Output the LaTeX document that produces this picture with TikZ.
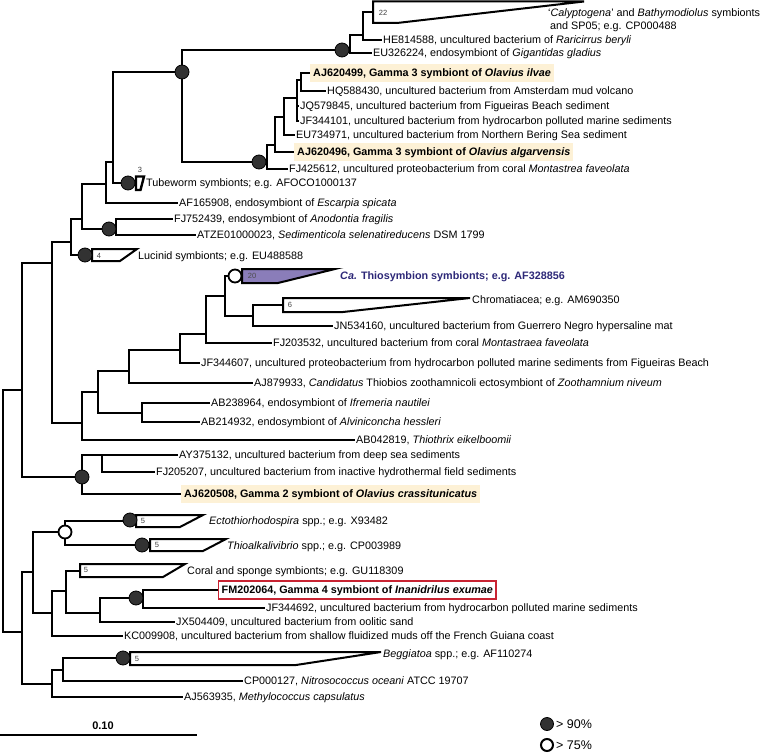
\documentclass[tikz,border=0pt]{standalone}
\usepackage{fontspec}
\setmainfont{Liberation Sans}
\definecolor{hlc}{RGB}{253,241,214}
\definecolor{navy}{RGB}{45,40,120}
\definecolor{thiofill}{RGB}{138,125,185}
\definecolor{redbox}{RGB}{200,35,50}
\definecolor{supfill}{RGB}{50,50,50}
\begin{document}
\begin{tikzpicture}[x=1pt,y=-1pt,
  br/.style={line width=2.3pt},
  lab/.style={anchor=west,inner xsep=1pt,inner ysep=0pt,text height=8.6pt,text depth=0.8pt,font=\fontsize{10.8}{12}\selectfont},
  hl/.style={lab,fill=hlc,inner xsep=3pt,inner ysep=4.3pt,font=\fontsize{10.8}{12}\selectfont\bfseries},
  redlab/.style={lab,fill=white,draw=redbox,line width=1.4pt,inner xsep=3pt,inner ysep=4.3pt,font=\fontsize{10.8}{12}\selectfont\bfseries},
  sup/.style={circle,fill=supfill,draw=black,line width=0.8pt,minimum size=14pt,inner sep=0pt},
  supo/.style={circle,fill=white,draw=black,line width=1.8pt,minimum size=13pt,inner sep=0pt},
  clade/.style={draw=black,line width=2pt,fill=white,line join=miter},
  num/.style={font=\fontsize{7.5}{8}\selectfont,text=black!75,inner sep=0pt},
  legtext/.style={anchor=west,inner sep=0pt,font=\fontsize{12.5}{14}\selectfont}]
\useasboundingbox (0,0) rectangle (760,754);

% ---------- leaf labels ----------
\node[lab] (HE) at (382,40) {HE814588, uncultured bacterium of \textit{Raricirrus beryli}};
\node[lab] (EUa) at (372,53) {EU326224, endosymbiont of \textit{Gigantidas gladius}};
\node[hl] (AJa) at (310,73) {AJ620499, Gamma 3 symbiont of \textit{Olavius ilvae}};
\node[lab] (HQ) at (326,91) {HQ588430, uncultured bacterium from Amsterdam mud volcano};
\node[lab] (JQ) at (299,106) {JQ579845, uncultured bacterium from Figueiras Beach sediment};
\node[lab] (JFa) at (299,121) {JF344101, uncultured bacterium from hydrocarbon polluted marine sediments};
\node[lab] (EUb) at (295,135) {EU734971, uncultured bacterium from Northern Bering Sea sediment};
\node[hl] (AJb) at (294,152) {AJ620496, Gamma 3 symbiont of \textit{Olavius algarvensis}};
\node[lab] (FJa) at (288,169) {FJ425612, uncultured proteobacterium from coral \textit{Montastrea faveolata}};
\node[lab] (AF) at (178,203) {AF165908, endosymbiont of \textit{Escarpia spicata}};
\node[lab] (FJb) at (173,219) {FJ752439, endosymbiont of \textit{Anodontia fragilis}};
\node[lab] (ATZE) at (196,235) {ATZE01000023, \textit{Sedimenticola selenatireducens} DSM 1799};
\node[lab] (JN) at (333,326) {JN534160, uncultured bacterium from Guerrero Negro hypersaline mat};
\node[lab] (FJc) at (272,343) {FJ203532, uncultured bacterium from coral \textit{Montastraea faveolata}};
\node[lab] (JFb) at (200,363) {JF344607, uncultured proteobacterium from hydrocarbon polluted marine sediments from Figueiras Beach};
\node[lab] (AJc) at (253,383) {AJ879933, \textit{Candidatus} Thiobios zoothamnicoli ectosymbiont of \textit{Zoothamnium niveum}};
\node[lab] (ABa) at (210,403) {AB238964, endosymbiont of \textit{Ifremeria nautilei}};
\node[lab] (ABb) at (200,422) {AB214932, endosymbiont of \textit{Alviniconcha hessleri}};
\node[lab] (ABc) at (355,440) {AB042819, \textit{Thiothrix eikelboomii}};
\node[lab] (AY) at (178,455) {AY375132, uncultured bacterium from deep sea sediments};
\node[lab] (FJd) at (155,472) {FJ205207, uncultured bacterium from inactive hydrothermal field sediments};
\node[hl] (AJd) at (181,494) {AJ620508, Gamma 2 symbiont of \textit{Olavius crassitunicatus}};
\node[redlab] (FM) at (218,590) {FM202064, Gamma 4 symbiont of \textit{Inanidrilus exumae}};
\node[lab] (JFc) at (265,608) {JF344692, uncultured bacterium from hydrocarbon polluted marine sediments};
\node[lab] (JX) at (175,622) {JX504409, uncultured bacterium from oolitic sand};
\node[lab] (KC) at (123,636) {KC009908, uncultured bacterium from shallow fluidized muds off the French Guiana coast};
\node[lab] (CP) at (243,681) {CP000127, \textit{Nitrosococcus oceani} ATCC 19707};
\node[lab] (AJe) at (183,697) {AJ563935, \textit{Methylococcus capsulatus}};

% ---------- collapsed clade labels ----------
\node[lab] (t22a) at (547,13) {`\textit{Calyptogena}' and \textit{Bathymodiolus} symbionts};
\node[lab] (t22b) at (549,26) {and SP05; e.g. CP000488};
\node[lab] (ttube) at (145,183) {Tubeworm symbionts; e.g. AFOCO1000137};
\node[lab] (tluc) at (137,256) {Lucinid symbionts; e.g. EU488588};
\node[lab,text=navy,font=\fontsize{10.8}{12}\selectfont\bfseries] (tthio) at (339,276) {\textit{Ca.} Thiosymbion symbionts; e.g. AF328856};
\node[lab] (tchrom) at (471,300) {Chromatiacea; e.g. AM690350};
\node[lab] (tecto) at (208,521) {\textit{Ectothiorhodospira} spp.; e.g. X93482};
\node[lab] (talk) at (226,546) {\textit{Thioalkalivibrio} spp.; e.g. CP003989};
\node[lab] (tcoral) at (186,571) {Coral and sponge symbionts; e.g. GU118309};
\node[lab] (tbeg) at (382,654) {\textit{Beggiatoa} spp.; e.g. AF110274};

% ---------- internal nodes ----------
\coordinate (R) at (3,511);
\coordinate (U) at (22,390);
\coordinate (L) at (22,632);
\coordinate (N52a) at (52,263);
\coordinate (G2) at (82,477);
\coordinate (N71) at (71,242);
\coordinate (N82b) at (82,423);
\coordinate (N82a) at (82,219);
\coordinate (N106) at (106,184);
\coordinate (N116) at (116,229);
\coordinate (N113) at (113,162);
\coordinate (N182) at (182,72);
\coordinate (N350) at (350,50);
\coordinate (N363) at (363,35);
\coordinate (N267) at (267,162);
\coordinate (N275) at (275,145);
\coordinate (N284) at (284,117);
\coordinate (N297) at (297,98);
\coordinate (N301) at (301,80);
\coordinate (N98) at (98,392);
\coordinate (N129) at (129,371);
\coordinate (N180) at (180,350);
\coordinate (N206) at (206,334);
\coordinate (N225) at (225,296);
\coordinate (N253) at (253,316);
\coordinate (N142) at (142,413);
\coordinate (N102) at (102,455);
\coordinate (N33) at (33,572);
\coordinate (N65) at (65,532);
\coordinate (N52b) at (52,613);
\coordinate (N66) at (66,591);
\coordinate (N100) at (100,613);
\coordinate (N143) at (143,598);
\coordinate (N52c) at (52,684);
\coordinate (N63) at (63,670);

% collapsed clade attachment points
\coordinate (c22) at (373,12);
\coordinate (ctube) at (136,183);
\coordinate (cluc) at (92,255);
\coordinate (cthio) at (242,276);
\coordinate (cchrom) at (283,305);
\coordinate (cecto) at (136,521);
\coordinate (calk) at (150,545);
\coordinate (ccoral) at (80,571);
\coordinate (cbeg) at (130,658);

% ---------- branches ----------
\draw[br] (R) |- (U);       \draw[br] (R) |- (L);
\draw[br] (U) |- (N52a);    \draw[br] (U) |- (G2);
\draw[br] (N52a) |- (N71);  \draw[br] (N52a) |- (N82b);
\draw[br] (N71) |- (N82a);  \draw[br] (N71) |- (cluc);
\draw[br] (N82a) |- (N106); \draw[br] (N82a) |- (N116);
\draw[br] (N106) |- (N113); \draw[br] (N106) |- (AF.west);
\draw[br] (N113) |- (N182); \draw[br] (N113) |- (ctube);
\draw[br] (N182) |- (N350); \draw[br] (N182) |- (N267);
\draw[br] (N350) |- (N363); \draw[br] (N350) |- (EUa.west);
\draw[br] (N363) |- (c22);  \draw[br] (N363) |- (HE.west);
\draw[br] (N267) |- (N275); \draw[br] (N267) |- (FJa.west);
\draw[br] (N275) |- (N284); \draw[br] (N275) |- (AJb.west);
\draw[br] (N284) |- (N297); \draw[br] (N284) |- (EUb.west);
\draw[br] (N297) |- (N301); \draw[br] (N297) |- (JQ.west); \draw[br] (N297) |- (JFa.west);
\draw[br] (N301) |- (AJa.west); \draw[br] (N301) |- (HQ.west);
\draw[br] (N116) |- (FJb.west); \draw[br] (N116) |- (ATZE.west);
\draw[br] (N82b) |- (N98);  \draw[br] (N82b) |- (ABc.west);
\draw[br] (N98) |- (N129);  \draw[br] (N98) |- (N142);
\draw[br] (N129) |- (N180); \draw[br] (N129) |- (AJc.west);
\draw[br] (N180) |- (N206); \draw[br] (N180) |- (JFb.west);
\draw[br] (N206) |- (N225); \draw[br] (N206) |- (FJc.west);
\draw[br] (N225) |- (cthio); \draw[br] (N225) |- (N253);
\draw[br] (N253) |- (cchrom); \draw[br] (N253) |- (JN.west);
\draw[br] (N142) |- (ABa.west); \draw[br] (N142) |- (ABb.west);
\draw[br] (G2) |- (N102);   \draw[br] (G2) |- (AJd.west);
\draw[br] (N102) |- (AY.west); \draw[br] (N102) |- (FJd.west);
\draw[br] (L) |- (N33);     \draw[br] (L) |- (N52c);
\draw[br] (N33) |- (N65);   \draw[br] (N33) |- (N52b);
\draw[br] (N65) |- (cecto); \draw[br] (N65) |- (calk);
\draw[br] (N52b) |- (N66);  \draw[br] (N52b) |- (KC.west);
\draw[br] (N66) |- (ccoral); \draw[br] (N66) |- (N100);
\draw[br] (N100) |- (N143); \draw[br] (N100) |- (JX.west);
\draw[br] (N143) |- (FM.west); \draw[br] (N143) |- (JFc.west);
\draw[br] (N52c) |- (N63);  \draw[br] (N52c) |- (AJe.west);
\draw[br] (N63) |- (cbeg);  \draw[br] (N63) |- (CP.west);

% ---------- collapsed clades ----------
\draw[clade] (373,1.5) -- (584,1.5) -- (397,23) -- (373,23) -- cycle;
\node[num] at (383,13) {22};
\draw[clade,line width=2.4pt] (136,176.5) -- (144,176.5) -- (140.5,190) -- (136,190) -- cycle;
\node[num] at (140,170) {3};
\draw[clade] (92,249) -- (137,249) -- (120,261) -- (92,261) -- cycle;
\node[num] at (99,256) {4};
\draw[clade,fill=thiofill] (242,269) -- (335,269) -- (278,283) -- (242,283) -- cycle;
\node[num,text=black!70] at (252,276) {20};
\draw[clade] (283,298) -- (470,298) -- (343,312) -- (283,312) -- cycle;
\node[num] at (290,305) {6};
\draw[clade] (136,515) -- (203,515) -- (180,527) -- (136,527) -- cycle;
\node[num] at (143,521) {5};
\draw[clade] (150,539) -- (226,539) -- (203,551) -- (150,551) -- cycle;
\node[num] at (157,545) {5};
\draw[clade] (80,564) -- (185,564) -- (163,577) -- (80,577) -- cycle;
\node[num] at (86,570) {5};
\draw[clade] (130,652) -- (381,652) -- (296,665) -- (130,665) -- cycle;
\node[num] at (137,659) {5};

% ---------- support circles ----------
\node[sup] (s1) at (182,72) {};
\node[sup] (s2) at (342,50) {};
\node[sup] (s3) at (259,162) {};
\node[sup] (s4) at (128,183) {};
\node[sup] (s5) at (109,229) {};
\node[sup] (s6) at (85,255) {};
\node[supo] (s7) at (235,276) {};
\node[sup] (s8) at (82,477) {};
\node[sup] (s9) at (130,520) {};
\node[sup] (s10) at (142,545) {};
\node[supo] (s11) at (65,532) {};
\node[sup] (s12) at (136,598) {};
\node[sup] (s13) at (123,658) {};

% ---------- scale bar ----------
\coordinate (sbA) at (0,735);
\coordinate (sbB) at (197,735);
\draw[line width=2pt] (sbA) -- (sbB);
\node[font=\fontsize{11}{12}\selectfont\bfseries,inner sep=0pt] (sbt) at (103,726) {0.10};

% ---------- legend ----------
\node[sup,minimum size=13pt] (lg1) at (547,724) {};
\node[legtext] (lg1t) at (556,724) {> 90\%};
\node[supo,minimum size=12pt,line width=2pt] (lg2) at (547,745) {};
\node[legtext] (lg2t) at (556,745) {> 75\%};
\end{tikzpicture}
\end{document}
